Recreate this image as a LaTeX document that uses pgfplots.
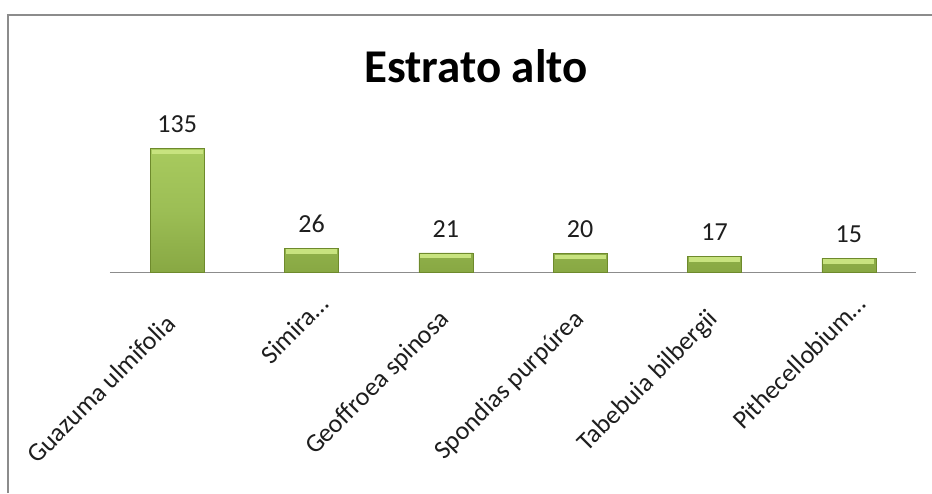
\documentclass[border=0pt]{standalone}
\usepackage{pgfplots}
\pgfplotsset{compat=1.18}
\usepackage{fontspec}
\setmainfont{Carlito}
\definecolor{gtop}{HTML}{C8E37F}
\definecolor{glight}{HTML}{A8CA5E}
\definecolor{gmid}{HTML}{9CBE55}
\definecolor{gbot}{HTML}{88A843}
\definecolor{gedge}{HTML}{6E8A2C}
\definecolor{framegray}{HTML}{8C8C8C}
\definecolor{axisgray}{HTML}{8C8C8C}
\definecolor{txt}{HTML}{1E1E1E}
\begin{document}
\begin{tikzpicture}[x=1pt,y=1pt]
\path[use as bounding box] (0,0) rectangle (932,493);
\node[font=\fontsize{47}{50}\selectfont\bfseries, anchor=base, text=black] at (476,410) {Estrato alto};
\begin{axis}[
  at={(110pt,221pt)}, anchor=south west,
  scale only axis, width=806pt, height=137pt,
  xmin=-0.5, xmax=5.5, ymin=0, ymax=150,
  hide y axis,
  axis x line=bottom,
  x axis line style={-, draw=axisgray, line width=1pt},
  xtick={0,...,5}, major tick length=0pt,
  xticklabels={Guazuma ulmifolia\rule{27pt}{0pt}, Simira…, Geoffroea spinosa\rule{20pt}{0pt}, Spondias purpúrea\rule{20pt}{0pt}, Tabebuia bilbergii\rule{20pt}{0pt}, Pithecellobium…},
  xticklabel style={font=\fontsize{26}{30}\selectfont, text=txt, xshift=19pt, yshift=-34pt, rotate=45, anchor=base east, inner sep=0pt},
  clip=false,
  /pgf/number format/assume math mode=true,
]
\addplot[ybar, bar width=54pt, draw=gedge, top color=glight, bottom color=gbot, middle color=gmid, line width=0.6pt,
  nodes near coords,
  every node near coord/.append style={font=\fontsize{26}{30}\selectfont, text=txt, yshift=12pt}]
  coordinates {(0,135) (1,26) (2,21) (3,20) (4,17) (5,15)};
\addplot[only marks, mark=-, mark size=25.5pt, mark options={line width=4.5pt, draw=gtop, yshift=-3.2pt}]
  coordinates {(0,135) (1,26) (2,21) (3,20) (4,17) (5,15)};
\end{axis}
\fill[white] (880,380) rectangle (932,476.4);
\draw[framegray, line width=2.2pt, line cap=butt] (8,0) -- (8,478);
\draw[framegray, line width=2.2pt, line cap=butt] (6.9,478) -- (932,478);
\end{tikzpicture}
\end{document}
